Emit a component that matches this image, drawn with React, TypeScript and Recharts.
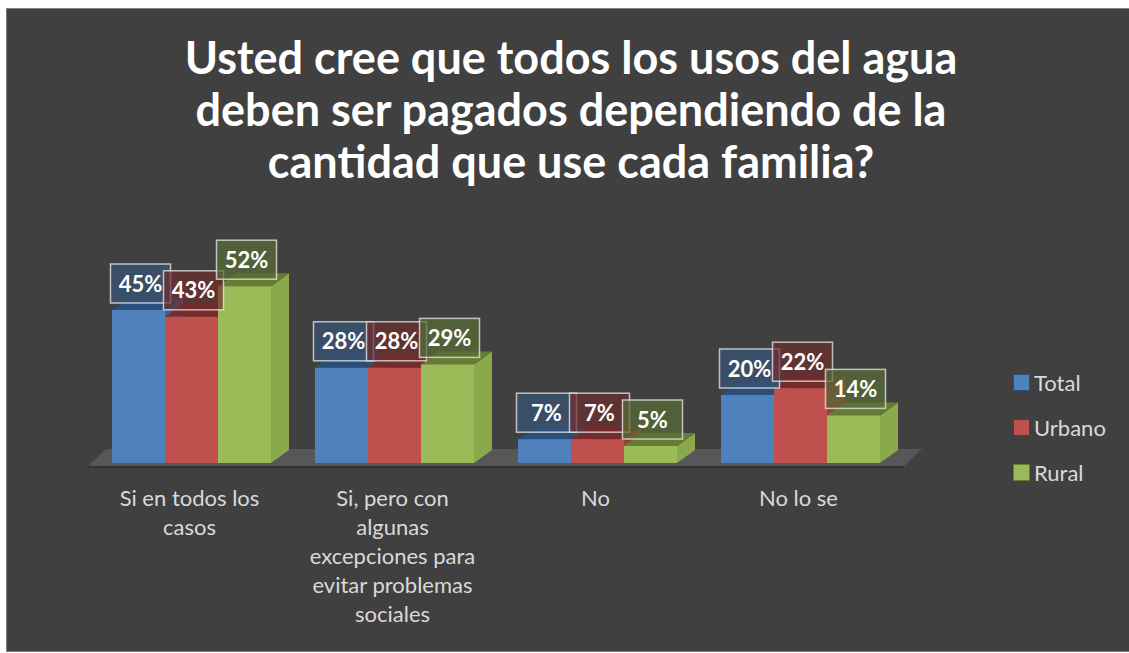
import React from "react";
import { BarChart, Bar, XAxis, YAxis, LabelList, ReferenceArea } from "recharts";

const title = [
  "Usted cree que todos los usos del agua",
  "deben ser pagados dependiendo de la",
  "cantidad que use cada familia?",
];
const categories = [
  "Si en todos los\ncasos",
  "Si, pero con\nalgunas\nexcepciones para\nevitar problemas\nsociales",
  "No",
  "No lo se",
];
const total = [45, 28, 7, 20];
const urbano = [43, 28, 7, 22];
const rural = [52, 29, 5, 14];

const seriesNames = ["Total", "Urbano", "Rural"];
const seriesKeys = ["total", "urbano", "rural"];
const palette = [
  { front: "#4f81bd", side: "#3a659a", top: "#2c4e7a", box: "rgba(55,84,120,0.7)" },
  { front: "#c0504d", side: "#9a3c3a", top: "#762c2b", box: "rgba(110,45,45,0.7)" },
  { front: "#9bbb59", side: "#8aa94d", top: "#647d33", box: "rgba(88,108,52,0.72)" },
];

const data = categories.map((cat, i) => ({
  cat,
  total: total[i],
  urbano: urbano[i],
  rural: rural[i],
}));

const DX = 18;
const DY = 13;
const FONT = "Lato, 'Open Sans', sans-serif";

const makeShape = (si: number) => (props: any) => {
  const { x, y, width, height } = props;
  const c = palette[si];
  if (width == null || height == null) return null;
  return (
    <g>
      <polygon
        points={`${x + width},${y} ${x + width + DX},${y - DY} ${x + width + DX},${y + height - DY} ${x + width},${y + height}`}
        fill={c.side}
      />
      <polygon
        points={`${x},${y} ${x + DX},${y - DY} ${x + width + DX},${y - DY} ${x + width},${y}`}
        fill={c.top}
      />
      <rect x={x} y={y} width={width} height={height} fill={c.front} />
    </g>
  );
};

const makeLabel = (si: number) => (props: any) => {
  const { x, y, width, value } = props;
  const c = palette[si];
  const bw = 60;
  const bh = 39;
  const cx = x + width / 2 + 2;
  const bottom = y - 7;
  return (
    <g>
      <rect
        x={cx - bw / 2}
        y={bottom - bh}
        width={bw}
        height={bh}
        fill={c.box}
        stroke="rgba(225,225,225,0.8)"
        strokeWidth={1.5}
      />
      <text
        x={cx}
        y={bottom - bh / 2 + 8}
        textAnchor="middle"
        fill="#ffffff"
        fontFamily={FONT}
        fontWeight={700}
        fontSize={22}
      >
        {`${value}%`}
      </text>
    </g>
  );
};

const renderTick = (props: any) => {
  const { x, y, payload } = props;
  const lines = String(payload.value).split("\n");
  return (
    <text
      x={x - 2}
      y={y + 35}
      textAnchor="middle"
      fill="#d9d9d9"
      fontFamily={FONT}
      fontSize={22}
    >
      {lines.map((l, i) => (
        <tspan key={i} x={x - 2} dy={i === 0 ? 0 : 29}>
          {l}
        </tspan>
      ))}
    </text>
  );
};

const floorShape = (props: any) => {
  const { x, y, width, height } = props;
  const b = y + height;
  return (
    <g>
      <polygon
        points={`${x - 2},${b + 3} ${x + width + 2},${b + 3} ${x + width + 20},${b - 14} ${x + 16},${b - 14}`}
        fill="#575757"
      />
      <polygon
        points={`${x - 2},${b + 3} ${x + width + 2},${b + 3} ${x + width + 2},${b + 5} ${x - 2},${b + 5}`}
        fill="#333333"
      />
    </g>
  );
};

export default function App() {
  return (
    <div
      style={{
        position: "fixed",
        left: 6,
        top: 8,
        width: 1128,
        height: 642,
        border: "1px solid #808080",
        background: "#404040",
        overflow: "hidden",
      }}
    >
      <div
        style={{
          position: "absolute",
          left: 0,
          top: 22,
          width: 1128,
          textAlign: "center",
          color: "#ffffff",
          fontFamily: FONT,
          fontWeight: 700,
          fontSize: 45,
          lineHeight: "52px",
        }}
      >
        {title.map((t, i) => (
          <div key={i}>{t}</div>
        ))}
      </div>
      <BarChart
        width={1128}
        height={642}
        data={data}
        margin={{ top: 250, right: 233, bottom: 158, left: 83 }}
        barCategoryGap={22}
        barGap={0}
        style={{ position: "absolute", left: 0, top: 0 }}
      >
        <XAxis
          dataKey="cat"
          axisLine={false}
          tickLine={false}
          height={30}
          interval={0}
          tick={renderTick}
        />
        <YAxis hide domain={[0, 60]} />
        <ReferenceArea y1={0} y2={2} shape={floorShape} />
        {seriesKeys.map((k, si) => (
          <Bar
            key={k}
            dataKey={k}
            name={seriesNames[si]}
            isAnimationActive={false}
            shape={makeShape(si)}
          >
            <LabelList dataKey={k} content={makeLabel(si)} />
          </Bar>
        ))}
      </BarChart>
      <div
        style={{
          position: "absolute",
          left: 1006,
          top: 351,
          fontFamily: FONT,
          fontSize: 22,
          color: "#d9d9d9",
        }}
      >
        {seriesNames.map((n, si) => (
          <div key={n} style={{ display: "flex", alignItems: "center", height: 45 }}>
            <span
              style={{
                display: "inline-block",
                width: 15,
                height: 15,
                background: palette[si].front,
                border: `1px solid ${palette[si].top}`,
                marginRight: 4,
              }}
            />
            <span>{n}</span>
          </div>
        ))}
      </div>
    </div>
  );
}
